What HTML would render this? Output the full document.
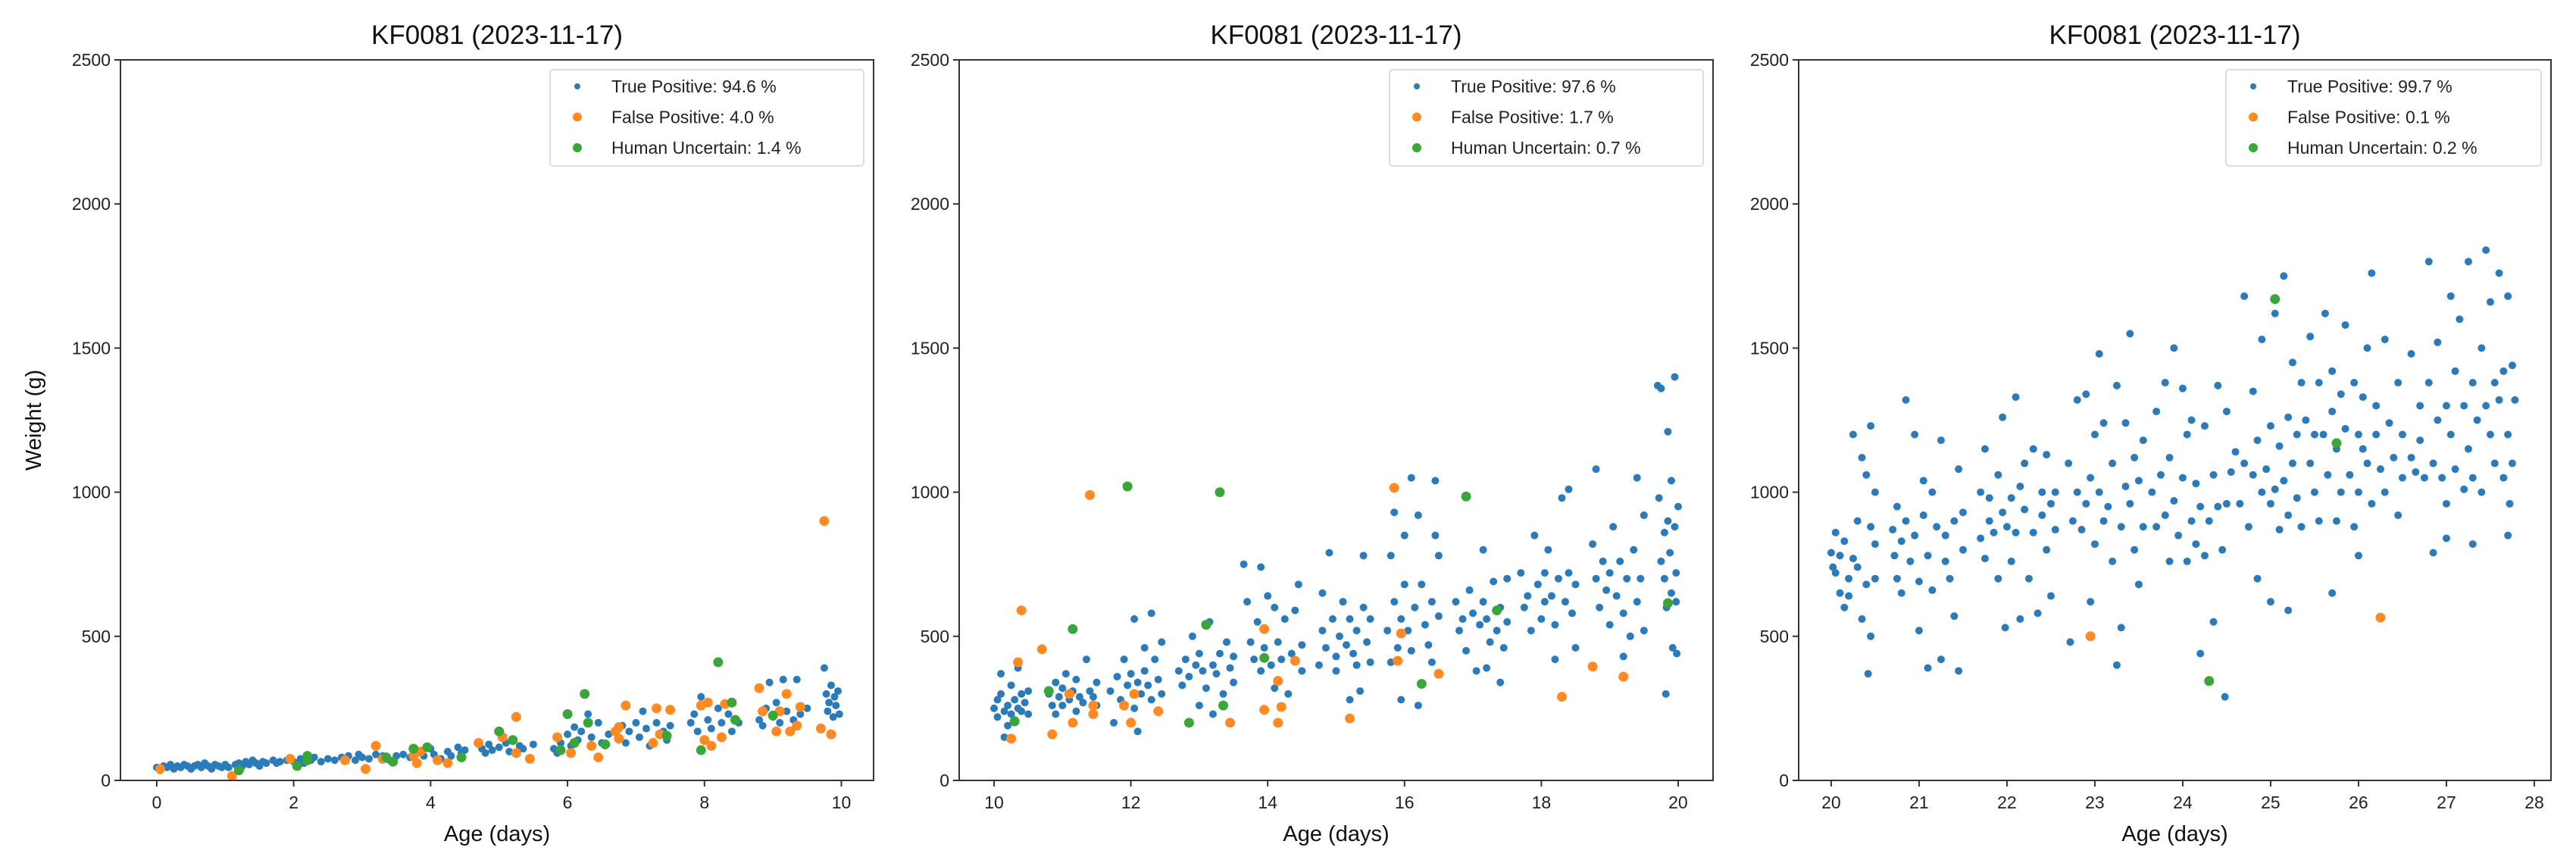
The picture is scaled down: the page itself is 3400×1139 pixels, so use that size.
<!DOCTYPE html>
<html><head><meta charset="utf-8"><style>
html,body{margin:0;padding:0;background:#fff;}
svg{display:block;font-family:"Liberation Sans","DejaVu Sans",sans-serif;}
</style></head><body>
<svg id="chart" width="3400" height="1139" viewBox="0 0 3400 1139" xmlns="http://www.w3.org/2000/svg"></svg>
<script>
const panelTitles = ["KF0081 (2023-11-17)","KF0081 (2023-11-17)","KF0081 (2023-11-17)"];
const legendPercents1 = ["94.6","4.0","1.4"];
const legendPercents2 = ["97.6","1.7","0.7"];
const legendPercents3 = ["99.7","0.1","0.2"];
const xTicks1 = [0,2,4,6,8,10];
const xTicks2 = [10,12,14,16,18,20];
const xTicks3 = [20,21,22,23,24,25,26,27,28];
const yTicks = [0,500,1000,1500,2000,2500];

const tp1 = [[0,45],[0.05,35],[0.1,50],[0.15,45],[0.2,55],[0.25,40],[0.3,50],[0.35,45],[0.4,55],[0.45,50],[0.5,40],[0.55,50],[0.6,55],[0.65,45],[0.7,60],[0.75,50],[0.8,40],[0.85,55],[0.9,50],[0.95,45],[1.0,55],[1.05,45],[1.15,55],[1.2,60],[1.25,50],[1.3,65],[1.35,55],[1.4,70],[1.45,60],[1.5,50],[1.55,65],[1.6,60],[1.7,70],[1.75,60],[1.8,65],[1.9,70],[2.0,65],[2.1,75],[2.15,60],[2.25,70],[2.3,80],[2.4,65],[2.5,75],[2.6,70],[2.7,80],[2.8,85],[2.9,70],[2.95,90],[3.0,80],[3.1,75],[3.2,90],[3.3,85],[3.4,70],[3.5,85],[3.6,90],[3.7,80],[3.8,95],[3.9,85],[4.0,110],[4.05,90],[4.15,75],[4.25,100],[4.3,85],[4.4,115],[4.45,95],[4.5,105],[4.75,110],[4.8,95],[4.85,125],[4.9,105],[5.0,115],[5.1,130],[5.15,100],[5.3,120],[5.35,110],[5.5,125],[5.8,110],[5.85,95],[5.9,130],[6.0,160],[6.05,120],[6.1,185],[6.15,140],[6.2,170],[6.3,230],[6.35,150],[6.45,200],[6.5,130],[6.6,160],[6.8,190],[6.85,130],[6.9,170],[7.0,200],[7.05,150],[7.1,240],[7.15,180],[7.2,120],[7.3,200],[7.4,170],[7.5,190],[7.45,140],[7.8,200],[7.85,230],[7.9,170],[7.95,290],[8.05,210],[8.1,180],[8.2,250],[8.25,200],[8.35,230],[8.4,170],[8.5,200],[8.8,210],[8.85,190],[8.9,250],[8.95,340],[9.0,220],[9.05,270],[9.1,200],[9.15,350],[9.2,240],[9.3,210],[9.35,350],[9.4,230],[9.5,250],[9.75,390],[9.78,300],[9.8,240],[9.82,270],[9.85,330],[9.88,220],[9.9,290],[9.92,260],[9.95,310],[9.97,230]];
const fp1 = [[0.05,40],[1.1,15],[1.95,75],[2.75,70],[3.05,40],[3.2,120],[3.3,75],[3.75,85],[3.8,60],[3.85,100],[4.1,70],[4.25,60],[4.7,130],[5.05,150],[5.25,220],[5.25,95],[5.45,75],[5.85,150],[6.05,95],[6.35,120],[6.45,80],[6.7,170],[6.75,185],[6.75,145],[6.85,260],[7.25,130],[7.3,250],[7.35,160],[7.5,245],[7.95,260],[8.0,140],[8.05,270],[8.1,120],[8.25,150],[8.3,265],[8.8,320],[8.85,240],[9.05,170],[9.1,240],[9.2,300],[9.25,170],[9.35,190],[9.4,255],[9.7,180],[9.75,900],[9.85,160]];
const hu1 = [[1.2,35],[2.05,50],[2.2,85],[2.2,70],[3.35,80],[3.45,65],[3.75,110],[3.95,115],[4.45,80],[5.0,170],[5.2,140],[5.9,105],[6.0,230],[6.1,130],[6.25,300],[6.3,200],[6.55,125],[7.45,155],[7.95,105],[8.2,410],[8.4,270],[8.45,210],[9.0,225]];

const tp2 = [[10.0,250],[10.05,280],[10.05,220],[10.1,370],[10.1,300],[10.15,240],[10.15,150],[10.2,260],[10.2,190],[10.25,230],[10.25,330],[10.3,280],[10.3,210],[10.35,250],[10.35,390],[10.4,300],[10.4,240],[10.45,270],[10.5,310],[10.5,230],
[10.8,300],[10.85,260],[10.9,340],[10.9,230],[10.95,290],[11.0,320],[11.0,260],[11.05,370],[11.1,280],[11.15,310],[11.2,240],[11.2,350],[11.25,290],[11.3,270],[11.35,420],[11.4,310],[11.45,290],[11.5,340],[11.5,260],
[11.7,310],[11.75,200],[11.8,360],[11.85,280],[11.9,420],[11.95,330],[12.0,370],[12.05,250],[12.05,560],[12.1,340],[12.15,300],[12.2,460],[12.2,380],[12.25,330],[12.3,580],[12.3,280],[12.35,420],[12.4,350],[12.45,300],[12.45,480],[12.1,170],
[12.7,380],[12.75,330],[12.8,420],[12.85,360],[12.9,500],[12.95,400],[13.0,260],[13.0,440],[13.05,380],[13.1,320],[13.15,550],[13.2,400],[13.25,370],[13.3,440],[13.35,300],[13.4,480],[13.45,390],[13.5,430],[13.5,340],[13.2,230],
[13.65,750],[13.7,620],[13.75,480],[13.8,420],[13.85,550],[13.9,380],[13.9,740],[13.95,460],[14.0,640],[14.05,400],[14.1,600],[14.1,320],[14.15,480],[14.2,420],[14.25,560],[14.3,300],[14.35,440],[14.4,590],[14.45,680],[14.5,470],[14.5,380],
[14.75,400],[14.8,520],[14.8,650],[14.85,460],[14.9,790],[14.95,560],[15.0,430],[15.0,380],[15.05,500],[15.1,620],[15.15,470],[15.2,280],[15.2,560],[15.25,440],[15.3,520],[15.35,310],[15.4,600],[15.4,780],[15.45,480],[15.5,560],[15.5,410],[15.3,400],
[15.75,520],[15.8,780],[15.8,410],[15.85,930],[15.85,620],[15.9,460],[15.95,560],[15.95,280],[16.0,850],[16.0,680],[16.05,520],[16.1,1050],[16.1,450],[16.15,600],[16.2,920],[16.2,260],[16.25,680],[16.3,540],[16.35,470],[16.4,620],[16.45,1040],[16.45,850],[16.5,570],[16.5,780],[16.4,410],
[16.75,620],[16.8,520],[16.85,560],[16.9,450],[16.95,660],[17.0,580],[17.05,380],[17.1,540],[17.15,800],[17.15,620],[17.2,560],[17.25,480],[17.3,690],[17.35,520],[17.4,600],[17.45,460],[17.5,700],[17.5,550],[17.2,390],[17.4,340],
[17.7,720],[17.75,600],[17.8,640],[17.85,520],[17.9,850],[17.95,680],[18.0,560],[18.05,720],[18.05,620],[18.1,800],[18.15,640],[18.2,540],[18.25,700],[18.3,980],[18.35,620],[18.4,1010],[18.4,720],[18.45,580],[18.5,680],[18.5,460],[18.2,420],
[18.75,820],[18.8,700],[18.8,1080],[18.85,600],[18.9,760],[18.95,660],[19.0,540],[19.0,720],[19.05,880],[19.1,640],[19.15,760],[19.2,580],[19.25,700],[19.3,500],[19.35,800],[19.4,1050],[19.4,620],[19.45,700],[19.5,520],[19.5,920],[19.2,430],
[19.7,1370],[19.72,980],[19.75,760],[19.75,1360],[19.8,700],[19.8,860],[19.83,600],[19.85,1210],[19.85,900],[19.88,790],[19.9,650],[19.9,1040],[19.92,460],[19.95,1400],[19.95,880],[19.97,620],[19.98,440],[19.82,300],[20.0,950],[19.97,720]];
const fp2 = [[10.25,145],[10.35,410],[10.4,590],[10.7,455],[10.85,160],[11.1,300],[11.15,200],[11.4,990],[11.45,260],[11.45,230],[11.9,260],[12.0,200],[12.05,300],[12.4,240],[13.45,200],[13.95,525],[13.95,245],[14.15,200],[14.15,345],[14.2,255],[14.4,415],[15.2,215],[15.85,1015],[15.9,415],[15.95,510],[16.5,370],[18.3,290],[18.75,395],[19.2,360]];
const hu2 = [[10.3,205],[10.8,310],[11.15,525],[11.95,1020],[12.85,200],[13.1,540],[13.3,1000],[13.35,260],[13.95,425],[16.25,335],[16.9,985],[17.35,590],[19.85,615]];

const tp3 = [[20.0,790],[20.02,740],[20.05,720],[20.05,860],[20.1,650],[20.1,780],[20.15,600],[20.15,830],[20.2,700],[20.2,640],[20.25,770],[20.25,1200],[20.3,900],[20.3,740],[20.35,560],[20.35,1120],[20.4,1060],[20.4,680],[20.45,500],[20.45,1230],[20.5,1000],[20.5,820],[20.5,700],[20.42,370],[20.45,880],
[20.7,870],[20.72,780],[20.75,700],[20.75,950],[20.8,830],[20.8,650],[20.85,1320],[20.85,900],[20.9,760],[20.95,1200],[20.95,850],[21.0,690],[21.0,520],[21.05,920],[21.05,1040],[21.1,780],[21.1,390],[21.15,1000],[21.15,660],[21.2,880],[21.25,1180],[21.25,420],[21.3,760],[21.3,850],[21.35,700],[21.4,900],[21.4,570],[21.45,1080],[21.45,380],[21.5,800],[21.5,930],
[21.7,1000],[21.7,840],[21.75,770],[21.75,1150],[21.8,900],[21.8,980],[21.85,860],[21.9,1060],[21.9,700],[21.95,1260],[21.95,930],[21.98,530],[22.0,880],[22.05,980],[22.05,760],[22.1,1330],[22.1,860],[22.15,560],[22.15,1020],[22.2,1100],[22.2,940],[22.25,700],[22.3,1150],[22.3,860],[22.35,580],[22.4,1000],[22.4,920],[22.45,800],[22.45,1130],[22.5,960],[22.5,640],[22.55,1000],[22.55,870],
[22.7,1100],[22.72,480],[22.75,900],[22.8,1000],[22.8,1320],[22.85,870],[22.9,1340],[22.9,960],[22.95,1050],[22.95,620],[23.0,1200],[23.0,820],[23.05,1000],[23.05,1480],[23.1,900],[23.1,1240],[23.15,950],[23.2,1100],[23.2,760],[23.25,1370],[23.25,400],[23.3,880],[23.35,1020],[23.35,1240],[23.4,960],[23.4,1550],[23.45,1120],[23.45,800],[23.5,1040],[23.5,680],[23.55,1180],[23.55,880],[23.3,530],
[23.65,1000],[23.7,880],[23.7,1280],[23.75,1060],[23.8,1380],[23.8,920],[23.85,760],[23.85,1120],[23.9,1500],[23.9,970],[23.95,850],[24.0,1050],[24.0,1360],[24.05,760],[24.05,1200],[24.1,900],[24.1,1250],[24.15,820],[24.15,1030],[24.2,950],[24.25,780],[24.25,1230],[24.3,900],[24.35,1060],[24.35,550],[24.4,950],[24.4,1370],[24.45,800],[24.5,1280],[24.5,960],[24.55,1070],[24.48,290],[24.2,440],
[24.6,1140],[24.65,960],[24.7,1680],[24.7,1100],[24.75,880],[24.8,1060],[24.8,1350],[24.85,1180],[24.85,700],[24.9,1000],[24.9,1530],[24.95,1080],[25.0,960],[25.0,1230],[25.05,1010],[25.05,1620],[25.1,1160],[25.1,870],[25.15,1040],[25.15,1750],[25.2,1260],[25.2,920],[25.25,1100],[25.25,1450],[25.3,980],[25.3,1200],[25.35,1380],[25.35,880],[25.4,1250],[25.45,1100],[25.45,1540],[25.5,1000],[25.5,1200],[25.55,1380],[25.55,900],[25.0,620],[25.2,590],
[25.6,1200],[25.62,1620],[25.65,1060],[25.7,1280],[25.7,1420],[25.75,900],[25.75,1150],[25.8,1000],[25.8,1340],[25.85,1220],[25.85,1580],[25.9,1060],[25.95,1380],[25.95,880],[26.0,1200],[26.0,1000],[26.05,1330],[26.05,1150],[26.1,1500],[26.1,1100],[26.15,1760],[26.15,960],[26.2,1300],[26.2,1200],[26.25,1080],[26.3,1530],[26.3,1000],[26.35,1240],[26.4,1120],[26.45,1380],[26.45,920],[26.5,1200],[26.5,1050],[25.7,650],[26.0,780],
[26.6,1120],[26.6,1480],[26.65,1070],[26.7,1300],[26.7,1180],[26.75,1050],[26.8,1800],[26.8,1380],[26.85,1100],[26.9,1250],[26.9,1520],[26.95,1050],[27.0,1300],[27.0,960],[27.05,1680],[27.05,1200],[27.1,1420],[27.1,1080],[27.15,1600],[27.2,1300],[27.2,1010],[27.25,1800],[27.25,1150],[27.3,1380],[27.3,1050],[27.35,1250],[27.4,1500],[27.4,1000],[27.45,1840],[27.45,1300],[27.5,1660],[27.5,1200],[27.55,1380],[27.55,1100],[27.6,1760],[27.6,1320],[27.65,1420],[27.65,1050],[27.7,1680],[27.7,1200],[27.72,960],[27.75,1440],[27.75,1100],[27.78,1320],[27.7,850],[27.3,820],[27.0,840],[26.85,790]];
const fp3 = [[22.95,500],[26.25,565]];
const hu3 = [[24.3,345],[25.05,1670],[25.75,1170]];

const NS = "http://www.w3.org/2000/svg";
const svg = document.getElementById('chart');
function mk(tag, attrs, parent){const e=document.createElementNS(NS,tag);for(const k in attrs)e.setAttribute(k,attrs[k]);(parent||svg).appendChild(e);return e;}

const TOP=79, BOTTOM=1030;
const panels = [
  {left:159,right:1153,xmin:-0.53,xmax:10.47,ticks:xTicks1,tp:tp1,fp:fp1,hu:hu1,pct:legendPercents1,ylabel:true,legW:414},
  {left:1266,right:2261,xmin:9.49,xmax:20.51,ticks:xTicks2,tp:tp2,fp:fp2,hu:hu2,pct:legendPercents2,ylabel:false,legW:414},
  {left:2374,right:3367,xmin:19.63,xmax:28.19,ticks:xTicks3,tp:tp3,fp:fp3,hu:hu3,pct:legendPercents3,ylabel:false,legW:416}
];
const colors = {tp:"#2b7bba",fp:"#ff8a24",hu:"#3aa63a"};

panels.forEach((p,i)=>{
  const g = mk('g',{});
  
  
  const xs = v => p.left + (v-p.xmin)/(p.xmax-p.xmin)*(p.right-p.left);
  const ys = v => BOTTOM - v/2500*(BOTTOM-TOP);
  const t = mk('text',{x:(p.left+p.right)/2,y:58,'text-anchor':'middle','font-size':35,fill:'#111'},g);
  t.textContent = panelTitles[i];
  
  
  yTicks.forEach(v=>{
    const y=ys(v);
    mk('line',{x1:p.left-8,x2:p.left,y1:y,y2:y,stroke:'#333','stroke-width':2},g);
    const tl=mk('text',{x:p.left-13,y:y+8,'text-anchor':'end','font-size':23,fill:'#222'},g);
    tl.textContent=v;
    
    
  });
  p.ticks.forEach(v=>{
    const x=xs(v);
    mk('line',{x1:x,x2:x,y1:BOTTOM,y2:BOTTOM+8,stroke:'#333','stroke-width':2},g);
    const tl=mk('text',{x:x,y:BOTTOM+37,'text-anchor':'middle','font-size':23,fill:'#222'},g);
    tl.textContent=v;
    
    
  });
  const xl=mk('text',{x:(p.left+p.right)/2,y:1110,'text-anchor':'middle','font-size':29,fill:'#111'},g);
  xl.textContent='Age (days)';
  
  
  if(p.ylabel){
    const yl=mk('text',{x:0,y:0,'text-anchor':'middle','font-size':29,fill:'#111',transform:`translate(54,${(TOP+BOTTOM)/2}) rotate(-90)`},g);
    yl.textContent='Weight (g)';
    
    
  }
  p.tp.forEach(d=>{
    const c=mk('circle',{cx:xs(d[0]),cy:ys(d[1]),r:5,fill:colors.tp},g);
    
    
  });
  p.fp.forEach(d=>{
    const c=mk('circle',{cx:xs(d[0]),cy:ys(d[1]),r:6.5,fill:colors.fp},g);
    
    
  });
  p.hu.forEach(d=>{
    const c=mk('circle',{cx:xs(d[0]),cy:ys(d[1]),r:6.5,fill:colors.hu},g);
    
    
  });
  const frame=mk('rect',{x:p.left,y:TOP,width:p.right-p.left,height:BOTTOM-TOP,fill:'none',stroke:'#333','stroke-width':2},g);
  
  
  const lx=p.right-13-p.legW, ly=92;
  const lg=mk('g',{},g);
  
  
  mk('rect',{x:lx,y:ly,width:p.legW,height:127,rx:4,fill:'#fff','fill-opacity':0.85,stroke:'#ddd','stroke-width':2},lg);
  const labels=['True Positive: ','False Positive: ','Human Uncertain: '];
  const cols=[colors.tp,colors.fp,colors.hu];
  [0,1,2].forEach(k=>{
    const yy=ly+22+k*40.5;
    mk('circle',{cx:lx+36,cy:yy,r:k==0?4:6,fill:cols[k]},lg);
    const tt=mk('text',{x:lx+81,y:yy+8,'font-size':23,fill:'#222'},lg);
    tt.textContent=labels[k]+p.pct[k]+' %';
    
    
  });
});
</script>
</body></html>
